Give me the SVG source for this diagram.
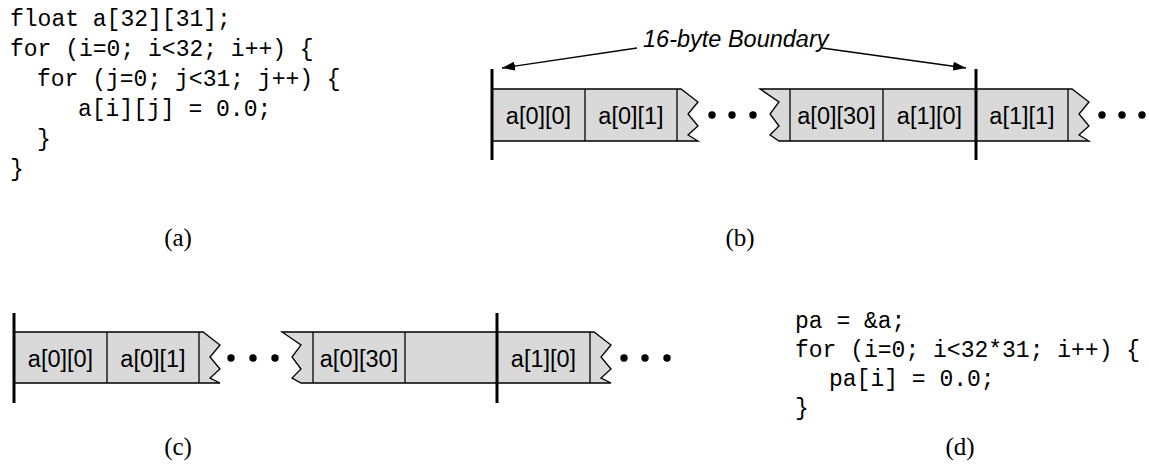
<svg xmlns="http://www.w3.org/2000/svg" width="1149" height="470" viewBox="0 0 1149 470">
  <defs>
    <marker id="arrowhead" markerUnits="userSpaceOnUse" markerWidth="13" markerHeight="9" refX="13" refY="4.5" orient="auto">
      <path d="M0,0 L13,4.5 L0,9 Z" fill="#000"/>
    </marker>
  </defs>
  <style>
    .code { font-family: "Liberation Mono", "DejaVu Sans Mono", monospace; font-size: 23px; fill: #000; }
    .caption { font-family: "Liberation Serif", "DejaVu Serif", serif; font-size: 25px; fill: #000; text-anchor: middle; }
    .cell { font-family: "Liberation Sans", Arial, sans-serif; font-size: 23.5px; fill: #000; text-anchor: middle; }
    .label { font-family: "Liberation Sans", Arial, sans-serif; font-size: 23.5px; font-style: italic; fill: #000; }
    .strip { fill: #d9d9d9; stroke: #000; stroke-width: 1.3; stroke-linejoin: miter; }
    .divider { stroke: #000; stroke-width: 1.3; }
    .bar { stroke: #000; stroke-width: 3; }
    .dot { fill: #000; }
    .connector { stroke: #000; stroke-width: 1.3; fill: none; }
  </style>

  <!-- (a) nested loop over the 2-D array -->
  <g id="code-nested">
    <text class="code" x="10" y="26">float a[32][31];</text>
    <text class="code" x="10" y="56">for (i=0; i&lt;32; i++) {</text>
    <text class="code" x="37" y="86">for (j=0; j&lt;31; j++) {</text>
    <text class="code" x="78" y="116">a[i][j] = 0.0;</text>
    <text class="code" x="37" y="146">}</text>
    <text class="code" x="10" y="176">}</text>
  </g>
  <text class="caption" x="178" y="246">(a)</text>

  <!-- (b) packed row-major layout -->
  <g id="layout-packed">
    <g id="b-strip-start">
      <path class="strip" d="M492,89 H677 L681,89 L698,102 L688,114 L698,126 L688,135 L698,141 H492 Z"/>
      <line class="divider" x1="585" y1="89" x2="585" y2="141"/>
      <line class="divider" x1="677" y1="89" x2="677" y2="141"/>
      <text class="cell" x="538.5" y="123.5">a[0][0]</text>
      <text class="cell" x="631" y="123.5">a[0][1]</text>
    </g>
    <g id="b-gap-1">
      <circle class="dot" cx="712" cy="115" r="3.7"/>
      <circle class="dot" cx="732" cy="115" r="3.7"/>
      <circle class="dot" cx="753" cy="115" r="3.7"/>
    </g>
    <g id="b-strip-middle">
      <path class="strip" d="M760,89 H1068 L1072,89 L1089,102 L1079,114 L1089,126 L1079,135 L1089,141 H779 L770,135 L779,126 L770,114 L779,102 Z"/>
      <line class="divider" x1="790" y1="89" x2="790" y2="141"/>
      <line class="divider" x1="883" y1="89" x2="883" y2="141"/>
      <line class="divider" x1="1068" y1="89" x2="1068" y2="141"/>
      <text class="cell" x="836.5" y="123.5">a[0][30]</text>
      <text class="cell" x="929.5" y="123.5">a[1][0]</text>
      <text class="cell" x="1022" y="123.5">a[1][1]</text>
    </g>
    <g id="b-gap-2">
      <circle class="dot" cx="1102" cy="115" r="3.7"/>
      <circle class="dot" cx="1122" cy="115" r="3.7"/>
      <circle class="dot" cx="1142" cy="115" r="3.7"/>
    </g>
    <g id="b-boundaries">
      <line class="bar" x1="492" y1="69" x2="492" y2="160"/>
      <line class="bar" x1="976" y1="69" x2="976" y2="160"/>
    </g>
    <g id="b-boundary-label">
      <text class="label" x="643" y="47">16-byte Boundary</text>
    </g>
  </g>
  <text class="caption" x="740" y="246">(b)</text>

  <!-- (c) padded layout, each row starts on a boundary -->
  <g id="layout-padded">
    <g id="c-strip-start">
      <path class="strip" d="M14,332 H199 L203,332 L220,345 L210,357 L220,369 L210,378 L220,383 H14 Z"/>
      <line class="divider" x1="107" y1="332" x2="107" y2="383"/>
      <line class="divider" x1="199" y1="332" x2="199" y2="383"/>
      <text class="cell" x="60.5" y="366.5">a[0][0]</text>
      <text class="cell" x="153" y="366.5">a[0][1]</text>
    </g>
    <g id="c-gap-1">
      <circle class="dot" cx="231" cy="358" r="3.7"/>
      <circle class="dot" cx="253" cy="358" r="3.7"/>
      <circle class="dot" cx="275" cy="358" r="3.7"/>
    </g>
    <g id="c-strip-middle">
      <path class="strip" d="M282,332 H590 L594,332 L611,345 L601,357 L611,369 L601,378 L611,383 H301 L292,378 L301,369 L292,357 L301,345 Z"/>
      <line class="divider" x1="313" y1="332" x2="313" y2="383"/>
      <line class="divider" x1="405" y1="332" x2="405" y2="383"/>
      <line class="divider" x1="590" y1="332" x2="590" y2="383"/>
      <text class="cell" x="359" y="366.5">a[0][30]</text>
      <text class="cell" x="543.5" y="366.5">a[1][0]</text>
    </g>
    <g id="c-gap-2">
      <circle class="dot" cx="624" cy="358" r="3.7"/>
      <circle class="dot" cx="645" cy="358" r="3.7"/>
      <circle class="dot" cx="667" cy="358" r="3.7"/>
    </g>
    <g id="c-boundaries">
      <line class="bar" x1="14" y1="313" x2="14" y2="403"/>
      <line class="bar" x1="497" y1="313" x2="497" y2="403"/>
    </g>
  </g>
  <text class="caption" x="178" y="455">(c)</text>

  <!-- (d) flat loop through a pointer -->
  <g id="code-flat">
    <text class="code" x="795" y="328">pa = &amp;a;</text>
    <text class="code" x="795" y="357">for (i=0; i&lt;32*31; i++) {</text>
    <text class="code" x="829" y="386">pa[i] = 0.0;</text>
    <text class="code" x="795" y="415">}</text>
  </g>
  <text class="caption" x="960" y="455">(d)</text>

  <!-- boundary pointers -->
  <g id="connectors">
    <line class="connector" x1="637" y1="48" x2="502" y2="68" marker-end="url(#arrowhead)"/>
    <line class="connector" x1="822" y1="48" x2="966" y2="68" marker-end="url(#arrowhead)"/>
  </g>
</svg>
